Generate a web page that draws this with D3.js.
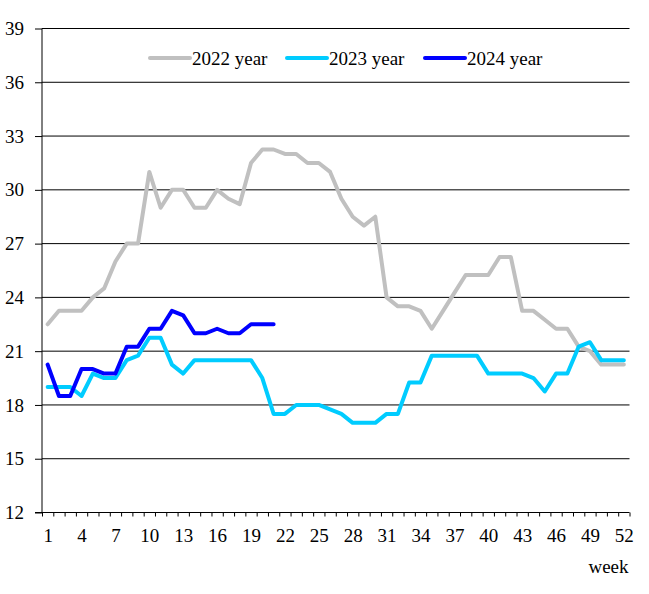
<!DOCTYPE html>
<html>
<head>
<meta charset="utf-8">
<script src="https://cdn.jsdelivr.net/npm/d3@7"></script>
<style>
  html, body { margin: 0; padding: 0; background: #fff; }
  svg text { font-family: "Liberation Serif", "Times New Roman", serif; fill: #000; }
</style>
</head>
<body>
<svg id="chart"></svg>
<script>
// weekly values
var values2022 = [22.5, 23.25, 23.25, 23.25, 24, 24.5, 26, 27, 27, 31, 29, 30, 30, 29, 29, 30, 29.5, 29.2, 31.5, 32.25,
                  32.25, 32, 32, 31.5, 31.5, 31, 29.5, 28.5, 28, 28.5, 24, 23.5, 23.5, 23.25, 22.25, 23.25, 24.25, 25.25, 25.25, 25.25,
                  26.25, 26.25, 23.25, 23.25, 22.75, 22.25, 22.25, 21.25, 21, 20.25, 20.25, 20.25];
var values2023 = [19, 19, 19, 18.5, 19.75, 19.5, 19.5, 20.5, 20.75, 21.75, 21.75, 20.25, 19.75, 20.5, 20.5, 20.5, 20.5, 20.5, 20.5, 19.5,
                  17.5, 17.5, 18, 18, 18, 17.75, 17.5, 17, 17, 17, 17.5, 17.5, 19.25, 19.25, 20.75, 20.75, 20.75, 20.75, 20.75, 19.75,
                  19.75, 19.75, 19.75, 19.5, 18.75, 19.75, 19.75, 21.25, 21.5, 20.5, 20.5, 20.5];
var values2024 = [20.25, 18.5, 18.5, 20, 20, 19.75, 19.75, 21.25, 21.25, 22.25, 22.25, 23.25, 23, 22, 22, 22.25, 22, 22, 22.5, 22.5, 22.5];

var seriesNames = ['2022 year', '2023 year', '2024 year'];
var seriesColors = ['#C0C0C0', '#00CCFF', '#0000FF'];
var xTickLabels = [1, 4, 7, 10, 13, 16, 19, 22, 25, 28, 31, 34, 37, 40, 43, 46, 49, 52];
var yTickLabels = [12, 15, 18, 21, 24, 27, 30, 33, 36, 39];
var weekCount = values2022.length;

var width = 649, height = 594;
var plotLeft = 42, plotRight = 629.5, plotTop = 28.5, plotBottom = 512.5;

var svg = d3.select('#chart').attr('width', width).attr('height', height);

var x = d3.scaleLinear().domain([0.5, weekCount + 0.5]).range([plotLeft, plotRight]);
var y = d3.scaleLinear().domain([12, 39]).range([plotBottom, plotTop]);

// horizontal grid + y labels
var yAxis = d3.axisLeft(y).tickValues(yTickLabels).tickSize(plotLeft - 35).tickPadding(11);
var gy = svg.append('g').attr('transform', 'translate(' + plotLeft + ',0)').call(yAxis);
gy.select('.domain').remove();
gy.selectAll('.tick text').attr('font-size', '19px');
gy.selectAll('.tick line').attr('stroke', '#000');

svg.append('g').selectAll('line.grid')
  .data(yTickLabels.slice(1))
  .enter().append('line')
  .attr('class', 'grid')
  .attr('x1', plotLeft).attr('x2', plotRight)
  .attr('y1', d => y(d)).attr('y2', d => y(d))
  .attr('stroke', '#000').attr('stroke-width', 1);

// x axis: tick marks between weeks, labels every 3rd week
var edges = [];
for (var i = 0; i <= weekCount; i++) edges.push(i + 0.5);
var xAxisTicks = d3.axisBottom(x).tickValues(edges).tickSize(4).tickFormat('');
var gx = svg.append('g').attr('transform', 'translate(0,' + plotBottom + ')').call(xAxisTicks);
gx.select('.domain').remove();
gx.selectAll('.tick line').attr('stroke', '#000');

var xAxisLabels = d3.axisBottom(x).tickValues(xTickLabels).tickSize(0).tickPadding(16);
var gxl = svg.append('g').attr('transform', 'translate(0,' + plotBottom + ')').call(xAxisLabels);
gxl.select('.domain').remove();
gxl.selectAll('.tick text').attr('font-size', '19px');

svg.append('line')
  .attr('x1', plotLeft - 7).attr('x2', plotRight)
  .attr('y1', plotBottom).attr('y2', plotBottom)
  .attr('stroke', '#000');
svg.append('line')
  .attr('x1', plotLeft).attr('x2', plotLeft)
  .attr('y1', plotTop).attr('y2', plotBottom)
  .attr('stroke', '#000');

svg.append('text')
  .attr('x', plotRight - 1).attr('y', 573)
  .attr('text-anchor', 'end')
  .attr('font-size', '19px')
  .text('week');

// series lines
var line = d3.line()
  .x((d, i) => x(i + 1))
  .y(d => y(d));

[values2022, values2023, values2024].forEach(function(vals, k) {
  svg.append('path')
    .datum(vals)
    .attr('d', line)
    .attr('fill', 'none')
    .attr('stroke', seriesColors[k])
    .attr('stroke-width', 4)
    .attr('stroke-linejoin', 'round')
    .attr('stroke-linecap', 'round');
});

// legend
var legendX = [148, 285, 423];
var legend = svg.append('g').selectAll('g')
  .data(seriesNames)
  .enter().append('g')
  .attr('transform', (d, i) => 'translate(' + legendX[i] + ',58)');
legend.append('line')
  .attr('x1', 2).attr('x2', 42)
  .attr('stroke', (d, i) => seriesColors[i])
  .attr('stroke-width', 4)
  .attr('stroke-linecap', 'round');
legend.append('text')
  .attr('x', 44).attr('dy', '0.35em')
  .attr('font-size', '19px')
  .text(d => d);
</script>
</body>
</html>
